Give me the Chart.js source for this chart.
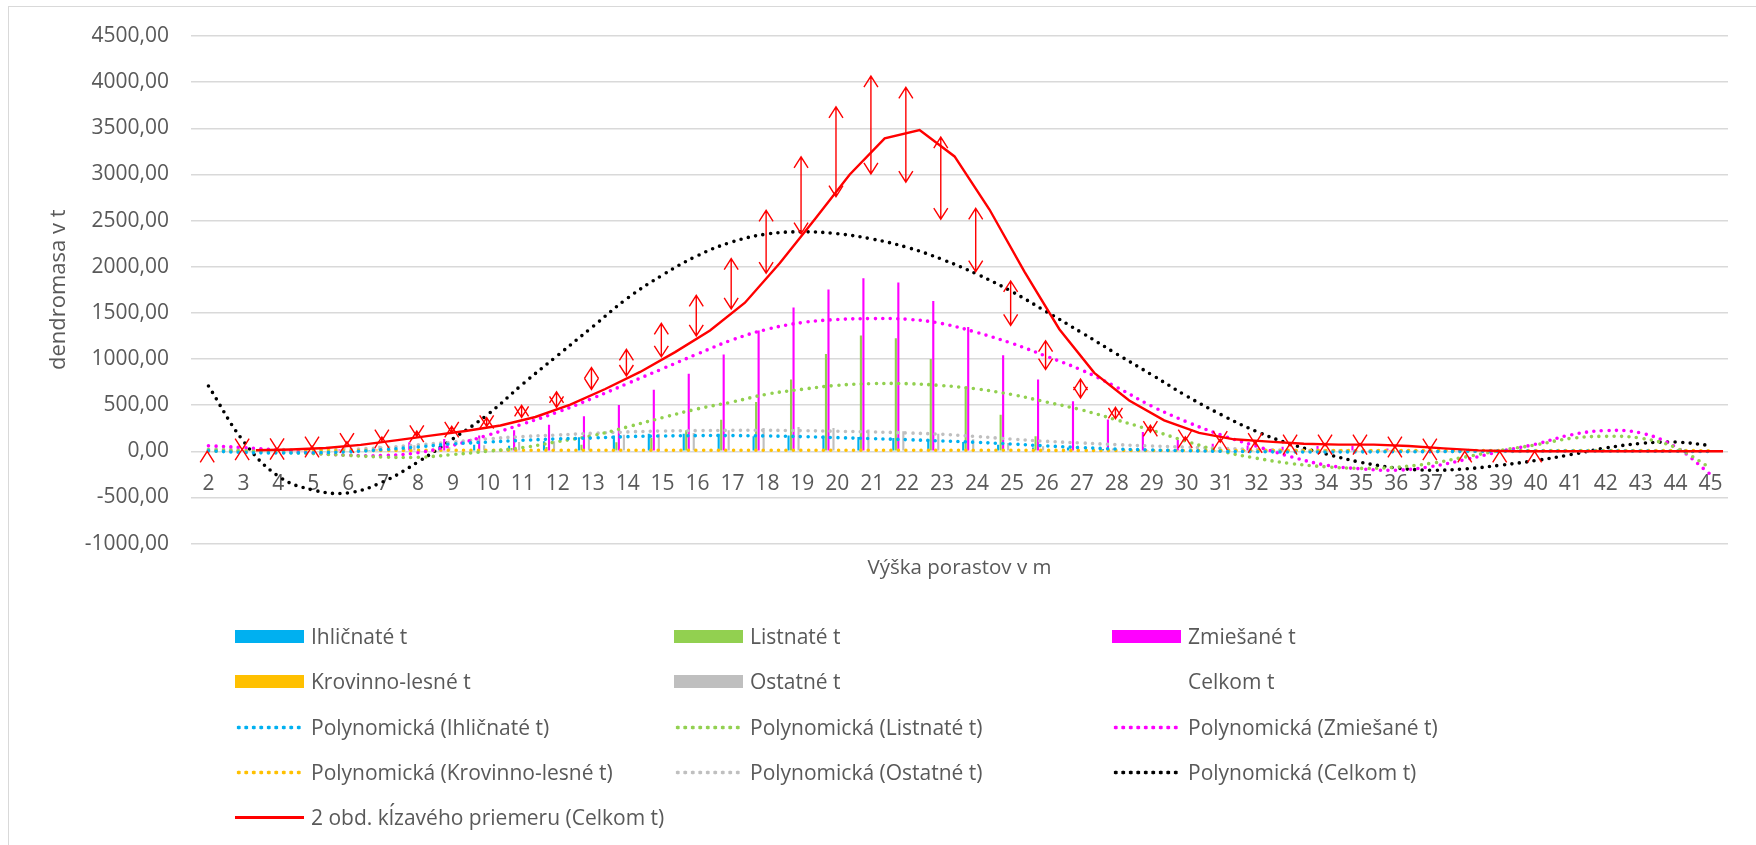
<!DOCTYPE html>
<html lang="sk">
<head>
<meta charset="utf-8">
<title>Dendromasa</title>
<script src="https://cdn.jsdelivr.net/npm/chart.js@4.4.1/dist/chart.umd.min.js"></script>
<style>
  html, body { margin: 0; padding: 0; background: #fff; }
  #wrap { position: relative; width: 1756px; height: 845px; overflow: hidden; font-family: "Open Sans", sans-serif; color: #595959; }
  #frame { position: absolute; left: 8px; top: 6px; width: 1800px; height: 900px; border: 1.5px solid #d9d9d9; }
  #chart { position: absolute; left: 0; top: 0; }
  #legend .item { position: absolute; display: flex; align-items: center; height: 26px; font-size: 21px; white-space: nowrap; }
  #legend .sw { width: 69px; height: 13px; margin-right: 7px; flex: none; }
</style>
</head>
<body>
<div id="wrap">
  <div id="frame"></div>
  <canvas id="chart" width="1756" height="845"></canvas>
  <div id="legend"></div>
</div>
<script>
// výška porastu (m)
const categories = [2, 3, 4, 5, 6, 7, 8, 9, 10, 11, 12, 13, 14, 15, 16, 17, 18, 19, 20, 21, 22, 23,
  24, 25, 26, 27, 28, 29, 30, 31, 32, 33, 34, 35, 36, 37, 38, 39, 40, 41, 42, 43, 44, 45];

const seriesNames = ["Ihličnaté t", "Listnaté t", "Zmiešané t", "Krovinno-lesné t", "Ostatné t", "Celkom t"];
const maName = "2 obd. kĺzavého priemeru (Celkom t)";

// dendromasa v t
const ihlicnate = [0, 5, 5, 5, 10, 15, 20, 54, 72, 61, 108, 152, 170, 191, 191, 191, 162, 170, 170, 155, 144, 134,
  100, 70, 40, 40, 25, 12, 5, 10, 8, 7, 4, 3, 5, 3, 0, 0, 0, null, null, null, null, null];
const listnate = [0, 0, 0, 0, 0, 0, 0, 0, 0, 36, 47, 72, 97, 144, 227, 343, 535, 777, 1055, 1254, 1225, 1001,
  700, 395, 162, 15, 10, 5, 0, 5, 3, 2, 0, 0, 2, 0, 0, 0, 0, null, null, null, null, null];
const zmiesane = [0, 0, 0, 10, 20, 40, 97, 134, 170, 227, 289, 379, 503, 668, 840, 1048, 1308, 1557, 1752, 1875, 1828, 1629,
  1348, 1040, 777, 542, 345, 210, 122, 83, 62, 50, 58, 60, 30, 10, 0, 0, 0, null, null, null, null, null];
const krovinno = [0, 5, 5, 7, 15, 20, 8, 0, 10, 9, 6, 10, 10, 10, 10, 10, 10, 10, 10, 10, 10, 10,
  12, 9, 8, 8, 5, 3, 3, 3, 2, 3, 2, 2, 2, 2, 0, 0, 0, null, null, null, null, null];
const ostatne = [0, 10, 15, 25, 45, 60, 65, 45, 65, 100, 110, 180, 180, 191, 199, 227, 253, 263, 253, 235, 217, 191,
  130, 90, 55, 60, 30, 15, 7, 15, 15, 10, 8, 7, 8, 5, 0, 0, 0, null, null, null, null, null];
const celkom = [0, 20, 25, 47, 90, 135, 190, 235, 318, 433, 560, 790, 960, 1205, 1470, 1815, 2270, 2775, 3245, 3535, 3430, 2960,
  2290, 1605, 1042, 680, 415, 245, 137, 116, 90, 72, 72, 72, 47, 20, 0, 0, 0, null, null, null, null, null];

// polynomické trendy (odčítané z grafu)
const polyIhlicnate = [5, -12, -18, -15, -5, 18, 47, 80, 100, 119, 134, 144, 159, 166, 170, 170, 166, 159, 148, 137, 126, 112,
  97, 79, 58, 40, 25, 14, 7, 0, -4, -7, -7, -6, -5, -3, 0, 2, 3, 3, 3, 2, 0, -3];
const polyListnate = [15, 5, -10, -25, -45, -62, -65, -35, 0, 40, 105, 170, 265, 365, 460, 535, 620, 672, 715, 733, 733, 712,
  675, 615, 533, 448, 340, 228, 108, 0, -75, -133, -168, -185, -172, -130, -60, 10, 70, 140, 162, 143, 40, -180];
const polyZmiesane = [60, 40, 12, -20, -42, -45, -15, 65, 175, 296, 425, 575, 735, 895, 1055, 1208, 1323, 1395, 1428, 1438, 1431, 1384,
  1287, 1170, 1028, 880, 695, 490, 320, 175, 55, -60, -150, -190, -205, -165, -88, 0, 78, 178, 224, 199, 47, -250];
const polyKrovinno = [2, 4, 6, 8, 9, 10, 10, 11, 11, 11, 11, 11, 11, 11, 11, 11, 11, 11, 11, 11, 11, 11,
  11, 11, 10, 10, 10, 9, 9, 8, 8, 8, 8, 8, 8, 8, 8, 8, 8, 9, 9, 9, 8, 6];
const polyOstatne = [25, 20, 18, 18, 22, 40, 70, 100, 135, 160, 177, 195, 210, 220, 224, 227, 227, 224, 217, 210, 199, 184,
  160, 132, 108, 90, 72, 58, 45, 32, 20, 12, 7, 3, 0, -3, -3, -2, 0, 2, 3, 3, 2, 0];
const polyCelkom = [708, 110, -270, -420, -450, -330, -115, 135, 400, 730, 1040, 1350, 1660, 1910, 2120, 2270, 2355, 2378, 2358, 2300, 2210, 2080,
  1920, 1730, 1510, 1285, 1055, 830, 600, 395, 215, 75, -30, -120, -180, -205, -190, -150, -100, -36, 36, 85, 100, 63];
const movingAvg = [null, 12, 20, 36, 70, 118, 170, 220, 280, 372, 505, 675, 860, 1075, 1310, 1610, 2040, 2515, 3000, 3390, 3480, 3195,
  2620, 1947, 1323, 850, 550, 335, 200, 130, 105, 82, 72, 72, 58, 32, 10, 0, 0, 0, 0, 0, 0, 0];

const yTicks = { min: -1000, max: 4500, step: 500 };
const ERR_PCT = 0.15; // chybové úsečky 15 %

const BLUE = "#00B0F0", GREEN = "#92D050", PINK = "#FF00FF", ORANGE = "#FFC000", GREY = "#BFBFBF", BLACK = "#000000", RED = "#FF0000";
const TEXT = "#595959", GRID = "#D9D9D9";
const barColors = [BLUE, GREEN, PINK, ORANGE, GREY, "rgba(0,0,0,0)"];
const trendColors = [BLUE, GREEN, PINK, ORANGE, GREY, BLACK];

const CAT_PCT = 0.86, BAR_PCT = 0.85;
// posun 6. stĺpca (Celkom) v rámci skupiny – tam Excel kreslí kĺzavý priemer
const lastBarShift = CAT_PCT * ((5 + 0.5) / 6 - 0.5);

Chart.defaults.font.family = "'Open Sans', sans-serif";
Chart.defaults.color = TEXT;

const barSeries = [ihlicnate, listnate, zmiesane, krovinno, ostatne, celkom];
const polySeries = [polyIhlicnate, polyListnate, polyZmiesane, polyKrovinno, polyOstatne, polyCelkom];

const datasets = [];
barSeries.forEach((d, i) => {
  datasets.push({
    type: "bar", label: seriesNames[i], data: d,
    backgroundColor: barColors[i], borderWidth: 0,
    categoryPercentage: CAT_PCT, barPercentage: BAR_PCT, order: 3
  });
});
polySeries.forEach((d, i) => {
  datasets.push({
    type: "line", label: "Polynomická (" + seriesNames[i] + ")", data: d,
    borderColor: trendColors[i], borderWidth: 3.6, borderDash: [0, 7.5], borderCapStyle: "round",
    pointRadius: 0, tension: 0.4, fill: false, order: 2
  });
});
datasets.push({
  type: "line", label: maName, xAxisID: "xLine",
  data: categories.map((c, i) => ({ x: c + lastBarShift, y: movingAvg[i] })),
  borderColor: RED, borderWidth: 2.4, pointRadius: 0, tension: 0, fill: false, order: 1
});

const CELKOM_INDEX = 5;
const errorBars = {
  id: "errorBars",
  afterDatasetsDraw(chart) {
    const meta = chart.getDatasetMeta(CELKOM_INDEX);
    const y = chart.scales.y;
    const ctx = chart.ctx;
    const headW = 7, headL = 11;
    ctx.save();
    ctx.strokeStyle = RED;
    ctx.lineWidth = 1.4;
    celkom.forEach((v, i) => {
      if (v === null) return;
      const x = meta.data[i].x;
      const yt = y.getPixelForValue(v * (1 + ERR_PCT));
      const yb = y.getPixelForValue(v * (1 - ERR_PCT));
      ctx.beginPath();
      ctx.moveTo(x - headW, yt + headL);
      ctx.lineTo(x, yt);
      ctx.lineTo(x + headW, yt + headL);
      if (v > 0) {
        ctx.moveTo(x, yt);
        ctx.lineTo(x, yb);
        ctx.moveTo(x - headW, yb - headL);
        ctx.lineTo(x, yb);
        ctx.lineTo(x + headW, yb - headL);
      }
      ctx.stroke();
    });
    ctx.restore();
  }
};

new Chart(document.getElementById("chart"), {
  type: "bar",
  data: { labels: categories, datasets },
  plugins: [errorBars],
  options: {
    responsive: false,
    animation: false,
    layout: { padding: { left: 0, right: 28, top: 36, bottom: 265 } },
    plugins: { legend: { display: false }, tooltip: { enabled: false } },
    scales: {
      x: {
        position: { y: 0 },
        offset: true,
        grid: { display: false, drawTicks: false },
        border: { display: false },
        ticks: { font: { size: 21 }, color: TEXT, padding: 20, maxRotation: 0, autoSkip: false }
      },
      xLine: {
        type: "linear", position: "bottom", offset: false,
        min: categories[0] - 0.5, max: categories[categories.length - 1] + 0.5,
        ticks: { display: false },
        grid: { display: false, drawTicks: false, offset: false },
        border: { display: false },
        title: { display: true, text: "Výška porastov v m", font: { size: 20.5 }, color: TEXT, padding: 0 },
        afterFit(s) { s.height = 36.4; }
      },
      y: {
        min: yTicks.min, max: yTicks.max,
        ticks: {
          stepSize: yTicks.step, font: { size: 21 }, color: TEXT, padding: 22,
          callback: (v) => v.toFixed(2).replace(".", ",")
        },
        grid: { color: GRID, lineWidth: 1.5, drawTicks: false },
        border: { display: false },
        title: { display: true, text: "dendromasa v t", font: { size: 22 }, color: TEXT, padding: { top: 46, bottom: 0 } },
        afterFit(s) { s.width = 191; }
      }
    }
  }
});

// legenda – 3 stĺpce ako v Exceli
const legendEntries = [
  ...seriesNames.map((n, i) => ({ text: n, kind: i === CELKOM_INDEX ? "none" : "bar", color: barColors[i] })),
  ...seriesNames.map((n, i) => ({ text: "Polynomická (" + n + ")", kind: "dot", color: trendColors[i] })),
  { text: maName, kind: "line", color: RED }
];
const colX = [235, 674, 1112];
const rowY = [636, 681, 727, 772, 817];
const legend = document.getElementById("legend");
legendEntries.forEach((e, i) => {
  const item = document.createElement("div");
  item.className = "item";
  item.style.left = colX[i % 3] + "px";
  item.style.top = (rowY[Math.floor(i / 3)] - 13) + "px";
  const sw = document.createElement("span");
  sw.className = "sw";
  if (e.kind === "bar") sw.style.background = e.color;
  if (e.kind === "dot") sw.style.background = "radial-gradient(circle at center, " + e.color + " 1.7px, transparent 2.2px) 0 0 / 7.5px 13px repeat-x";
  if (e.kind === "line") sw.style.background = "linear-gradient(to bottom, transparent 5px, " + e.color + " 5px, " + e.color + " 8px, transparent 8px)";
  const label = document.createElement("span");
  label.textContent = e.text;
  item.appendChild(sw);
  item.appendChild(label);
  legend.appendChild(item);
});
</script>
</body>
</html>
